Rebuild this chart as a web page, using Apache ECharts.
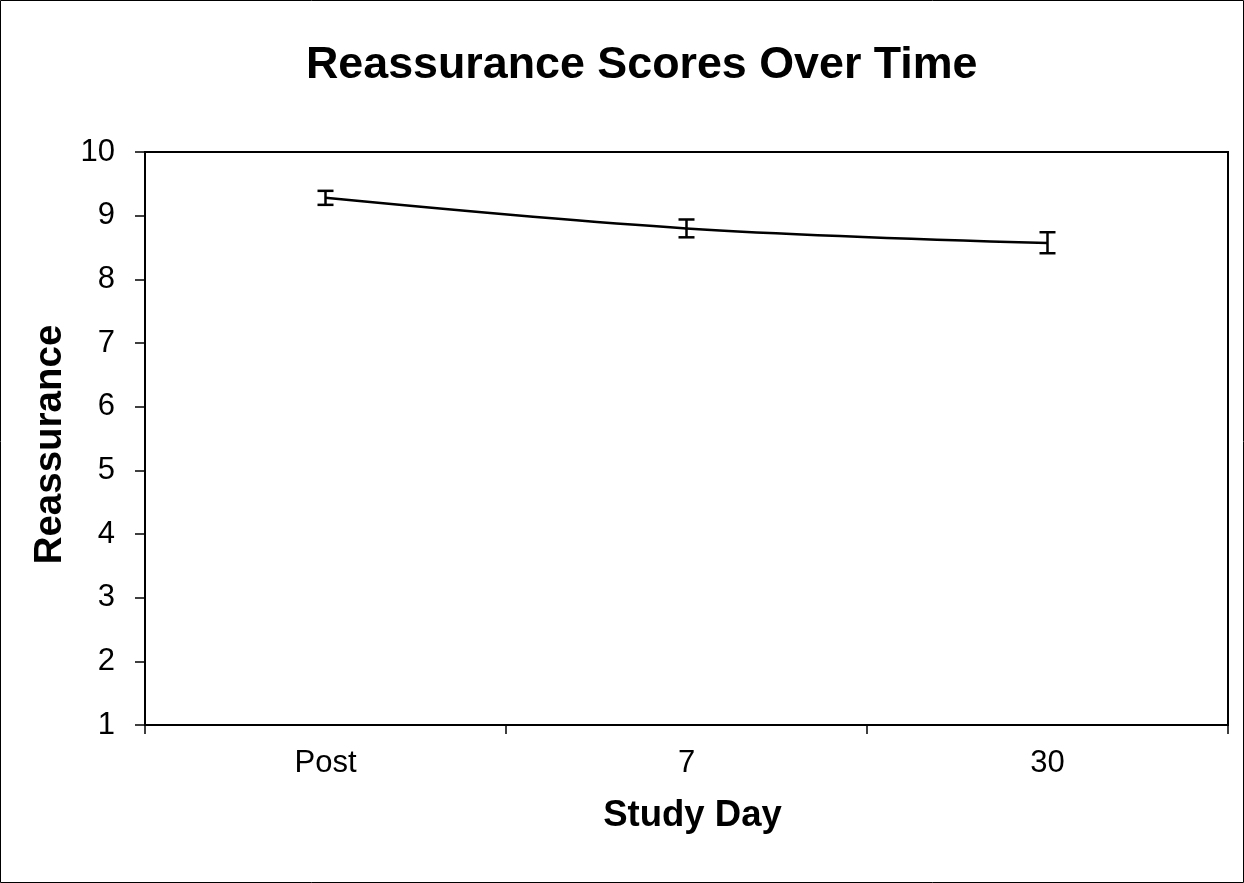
<!DOCTYPE html>
<html>
<head>
<meta charset="utf-8">
<style>
html,body{margin:0;padding:0;background:#fff;}
#chart{width:1244px;height:883px;}
</style>
<script src="https://cdn.jsdelivr.net/npm/echarts@6/dist/echarts.min.js"></script>
</head>
<body>
<div id="chart"></div>
<script>
const categories = ['Post', '7', '30'];
const means = [9.28, 8.80, 8.57];
const errLow = [9.17, 8.66, 8.41];
const errHigh = [9.39, 8.94, 8.74];
const yTicks = {min: 1, max: 10, interval: 1};

const chart = echarts.init(document.getElementById('chart'));
const font = 'Liberation Sans, Arial, sans-serif';
const errData = categories.map((c, i) => [i, errLow[i], errHigh[i]]);

chart.setOption({
  backgroundColor: '#fff',
  animation: false,
  title: {
    text: 'Reassurance Scores Over Time',
    left: 301,
    top: 38,
    textStyle: {fontFamily: font, fontSize: 44.8, fontWeight: 'bold', color: '#000'}
  },
  graphic: [{
    type: 'rect',
    shape: {x: 0.5, y: 0.5, width: 1243, height: 882},
    style: {fill: 'none', stroke: '#000', lineWidth: 1},
    silent: true
  }],
  grid: {left: 145, right: 16, top: 152, bottom: 158, show: true, borderColor: '#000', borderWidth: 2, backgroundColor: 'transparent'},
  xAxis: {
    type: 'category',
    data: categories,
    boundaryGap: true,
    name: 'Study Day',
    nameLocation: 'middle',
    nameGap: 72,
    nameTextStyle: {fontFamily: font, fontSize: 36.5, fontWeight: 'bold', color: '#000', padding: [0, 0, 0, 12]},
    axisLine: {lineStyle: {color: '#000', width: 2}},
    axisTick: {show: true, length: 9, lineStyle: {color: '#000', width: 1.5}, alignWithLabel: false},
    axisLabel: {fontFamily: font, fontSize: 31, color: '#000', margin: 23},
    splitLine: {show: false}
  },
  yAxis: {
    type: 'value',
    min: yTicks.min, max: yTicks.max, interval: yTicks.interval,
    name: 'Reassurance',
    nameLocation: 'middle',
    nameGap: 67,
    nameTextStyle: {fontFamily: font, fontSize: 38.5, fontWeight: 'bold', color: '#000', padding: [0, 12, 0, 0]},
    axisLine: {show: true, lineStyle: {color: '#000', width: 2}},
    axisTick: {show: true, length: 10, lineStyle: {color: '#000', width: 1.5}},
    axisLabel: {fontFamily: font, fontSize: 31, color: '#000', margin: 30},
    splitLine: {show: false}
  },
  series: [{
    type: 'line',
    data: means,
    smooth: 0.35,
    symbol: 'none',
    lineStyle: {color: '#000', width: 2.5},
    z: 3
  }, {
    type: 'custom',
    data: errData,
    z: 4,
    renderItem: function (params, api) {
      const x = api.value(0);
      const lo = api.coord([x, api.value(1)]);
      const hi = api.coord([x, api.value(2)]);
      const hw = 8;
      const st = {stroke: '#000', lineWidth: 2.5, fill: 'none'};
      return {
        type: 'group',
        children: [
          {type: 'line', shape: {x1: hi[0], y1: hi[1], x2: lo[0], y2: lo[1]}, style: st},
          {type: 'line', shape: {x1: hi[0] - hw, y1: hi[1], x2: hi[0] + hw, y2: hi[1]}, style: st},
          {type: 'line', shape: {x1: lo[0] - hw, y1: lo[1], x2: lo[0] + hw, y2: lo[1]}, style: st}
        ]
      };
    }
  }]
});
</script>
</body>
</html>
